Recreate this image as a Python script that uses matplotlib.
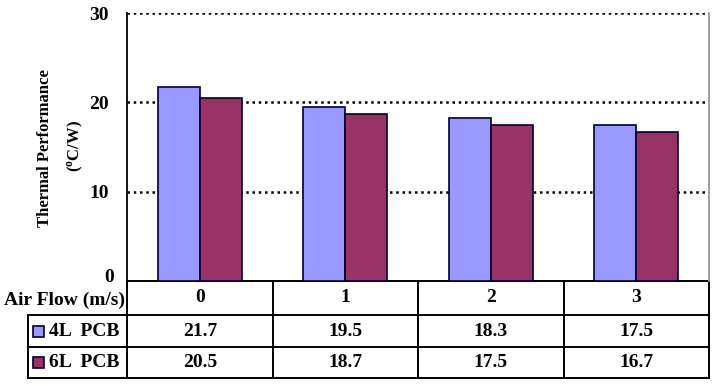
import numpy as np
import matplotlib.pyplot as plt
import matplotlib.patches as patches
from matplotlib.transforms import blended_transform_factory

plt.rcParams['font.family'] = ['Liberation Serif', 'DejaVu Serif']
plt.rcParams['font.weight'] = 'bold'

air_flow = ['0', '1', '2', '3']
series_names = ['4L  PCB', '6L  PCB']
pcb_4l = [21.7, 19.5, 18.3, 17.5]
pcb_6l = [20.5, 18.7, 17.5, 16.7]
colors = ['#9999FF', '#993366']

fs = 14  # table / tick font size

fig = plt.figure(figsize=(7.2, 3.85), dpi=100)
ax = fig.add_axes([127/720, 1 - 281/385, (709-127)/720, (281-13)/385])

x = np.arange(len(air_flow))
w = 0.29
ax.bar(x - w/2, pcb_4l, w, color=colors[0], edgecolor='#000033', linewidth=1.2, zorder=3)
ax.bar(x + w/2, pcb_6l, w, color=colors[1], edgecolor='#000033', linewidth=1.2, zorder=3)

ax.set_xlim(-0.5, len(air_flow) - 0.5)
ax.set_ylim(0, 30)
ax.set_yticks([10, 20, 30])
ax.set_xticks([])
ax.tick_params(axis='y', length=0, labelsize=fs, pad=13)
for t in ax.get_yticklabels():
    t.set_fontweight('bold')
# the 0 label sits a touch higher so it clears the table header
ax.annotate('0', (0, 0), xycoords=('axes fraction', 'data'), xytext=(-13, 3),
            textcoords='offset pixels', ha='right', va='center', fontsize=fs, fontweight='bold',
            annotation_clip=False)
for yv in [10, 20, 30]:
    ax.axhline(yv, color='k', linewidth=1.8, linestyle=(0, (1, 1.5)), zorder=1)

ax.spines['top'].set_visible(False)
ax.spines['bottom'].set_visible(False)
ax.spines['left'].set_linewidth(1.3)
ax.spines['right'].set_color('#999999')
ax.spines['right'].set_linewidth(1.3)

# axis title, two lines
fig.text(45/720, 1 - 148/385, 'Thermal Performance', rotation=90, ha='center', va='center',
         fontsize=12, fontweight='bold')
fig.text(75/720, 1 - 146/385, '($\\mathregular{^o}$C/W)', rotation=90, ha='center', va='center',
         fontsize=12, fontweight='bold')

# data table under the plot
tr = blended_transform_factory(ax.transData, ax.transAxes)
left = -0.5 - 99/145.5
right = len(air_flow) - 0.5
r1, r2, r3 = -34/268, -66/268, -97/268
kw = dict(transform=tr, color='k', linewidth=1.4, clip_on=False)
ax.plot([-0.5, right], [0, 0], **kw)
for yy in [r1, r2, r3]:
    ax.plot([left, right], [yy, yy], **kw)
ax.plot([left, left], [r1, r3], **kw)
for xb in np.arange(len(air_flow) + 1) - 0.5:
    ax.plot([xb, xb], [0, r3], **kw)

ax.text(-0.5 - 63/145.5, (0 + r1)/2 - 2/268, 'Air Flow (m/s)', transform=tr,
        ha='center', va='center', fontsize=fs, fontweight='bold')
for i, lab in enumerate(air_flow):
    ax.text(x[i], (0 + r1)/2, lab, transform=tr, ha='center', va='center',
            fontsize=fs, fontweight='bold')
rows = [(r1, r2, pcb_4l), (r2, r3, pcb_6l)]
for k, (ya, yb, vals) in enumerate(rows):
    ym = (ya + yb)/2
    for i, v in enumerate(vals):
        ax.text(x[i], ym, '%.1f' % v, transform=tr, ha='center', va='center',
                fontsize=fs, fontweight='bold')
    # legend key
    kx = left + 5/145.5
    ax.add_patch(patches.Rectangle((kx, ym - 5.5/268), 11/145.5, 11/268, transform=tr,
                                   facecolor=colors[k], edgecolor='#000033', linewidth=1.2,
                                   clip_on=False))
    ax.text(left + 21/145.5, ym, series_names[k], transform=tr, ha='left', va='center',
            fontsize=fs, fontweight='bold')

fig.savefig('out.png', dpi=100)
